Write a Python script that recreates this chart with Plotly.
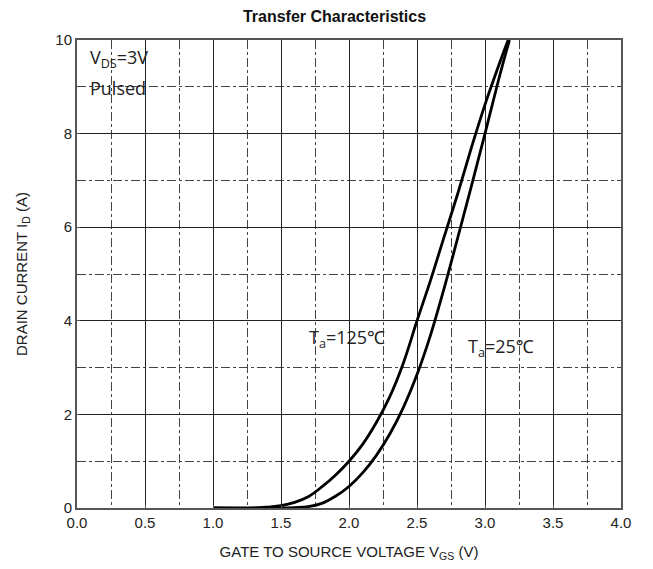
import plotly.graph_objects as go

# 125 °C curve (Vgs, Id)
vgs_125 = [1.0, 1.3, 1.4, 1.5, 1.6, 1.7, 1.8, 1.9, 2.0, 2.1, 2.2, 2.3, 2.4, 2.5, 2.6, 2.7, 2.8, 2.9, 3.0, 3.1, 3.17]
id_125 = [0.0, 0.0, 0.02, 0.05, 0.12, 0.24, 0.45, 0.70, 1.0, 1.36, 1.82, 2.38, 3.1, 4.0, 4.87, 5.8, 6.72, 7.7, 8.62, 9.45, 10.0]

# 25 °C curve (Vgs, Id)
vgs_25 = [1.0, 1.5, 1.6, 1.7, 1.8, 1.9, 2.0, 2.1, 2.2, 2.3, 2.4, 2.5, 2.6, 2.7, 2.8, 2.9, 3.0, 3.1, 3.18]
id_25 = [0.0, 0.0, 0.01, 0.03, 0.1, 0.25, 0.46, 0.75, 1.12, 1.58, 2.15, 2.85, 3.7, 4.7, 5.78, 6.88, 8.0, 9.15, 10.0]

x_ticks = [0.0, 0.5, 1.0, 1.5, 2.0, 2.5, 3.0, 3.5, 4.0]
y_ticks = [0, 2, 4, 6, 8, 10]

fig = go.Figure()
for xs, ys in [(vgs_125, id_125), (vgs_25, id_25)]:
    fig.add_trace(go.Scatter(x=xs, y=ys, mode="lines",
                             line=dict(color="black", width=2.8, shape="spline", smoothing=1.0),
                             showlegend=False))

font_main = "Liberation Sans, Arial, sans-serif"
font_ann = "Open Sans, Noto Sans, sans-serif"

fig.update_layout(
    width=653, height=569,
    margin=dict(l=69, r=40, t=32, b=69),
    paper_bgcolor="white", plot_bgcolor="white",
    title=dict(text="<b>Transfer Characteristics</b>", x=0.5, xanchor="center",
               y=0.995, yanchor="top",
               font=dict(family=font_main, size=16, color="#111")),
    font=dict(family=font_main, size=15, color="#222"),
)

fig.update_xaxes(
    range=[0, 4], tickvals=x_ticks, ticktext=[f"{v:.1f}" for v in x_ticks],
    showgrid=True, gridcolor="#222", gridwidth=1,
    minor=dict(dtick=0.25, showgrid=True, gridcolor="#444", griddash="dashdot", gridwidth=1),
    showline=True, linecolor="#555", linewidth=2, mirror=True,
    ticks="inside", ticklen=3, tickcolor="#555", zeroline=False,
    title=dict(text="GATE TO SOURCE VOLTAGE V<sub>GS</sub> (V)", standoff=16,
               font=dict(family=font_main, size=15, color="#222")),
    tickfont=dict(family=font_main, size=15, color="#222"),
)
fig.update_yaxes(
    range=[0, 10], tickvals=y_ticks,
    showgrid=True, gridcolor="#222", gridwidth=1,
    minor=dict(dtick=1, showgrid=True, gridcolor="#444", griddash="dashdot", gridwidth=1),
    showline=True, linecolor="#555", linewidth=2, mirror=True,
    ticks="inside", ticklen=3, tickcolor="#555", zeroline=False,
    title=dict(text="DRAIN CURRENT I<sub>D</sub> (A)", standoff=24,
               font=dict(family=font_main, size=15, color="#222")),
    tickfont=dict(family=font_main, size=15, color="#222"),
)

ann_font = dict(family=font_ann, size=18, color="#222")
fig.add_annotation(x=0.08, y=9.6, text="V<sub>DS</sub>=3V", showarrow=False,
                   xanchor="left", yanchor="middle", font=ann_font)
fig.add_annotation(x=0.08, y=8.97, text="Pulsed", showarrow=False,
                   xanchor="left", yanchor="middle", font=ann_font)
fig.add_annotation(x=1.69, y=3.62, text="T<sub>a</sub>=125℃", showarrow=False,
                   xanchor="left", yanchor="middle", font=ann_font)
fig.add_annotation(x=2.86, y=3.42, text="T<sub>a</sub>=25℃", showarrow=False,
                   xanchor="left", yanchor="middle", font=ann_font)

fig.write_html("out.html")
